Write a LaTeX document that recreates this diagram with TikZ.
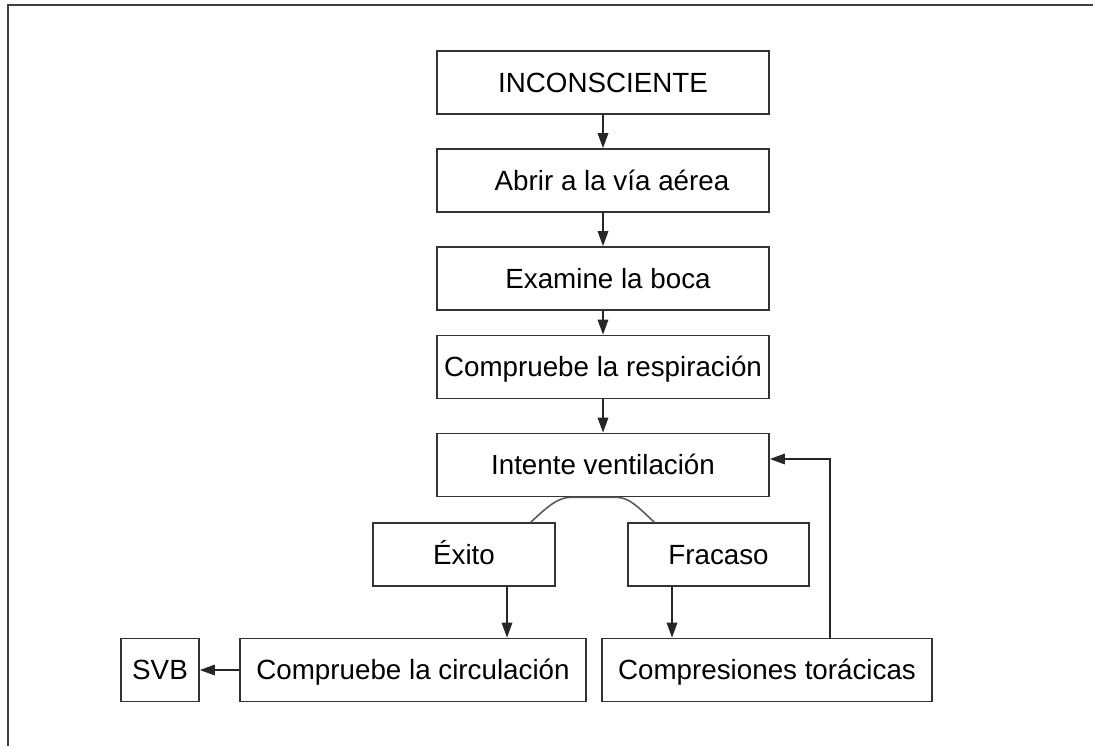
\documentclass[tikz,border=0pt]{standalone}
\usepackage{fontspec}
\setmainfont{Liberation Sans}
\usetikzlibrary{arrows.meta,positioning,calc}

\begin{document}
\begin{tikzpicture}[
    box/.style={draw=black!80,line width=1pt,rectangle,minimum height=1.26cm,inner sep=0pt,
                text height=12.5pt,text depth=1.2pt,font=\fontsize{15.8}{19}\selectfont},
    >={Triangle[width=6pt,length=8.5pt]},
    link/.style={->,line width=0.8pt,black!85}
  ]
        % Page size and frame
        \useasboundingbox (0,0) rectangle (21.86,-14.92);
        \draw[black!75,line width=1.6pt] (0.16,-14.92) -- (0.16,-0.1) -- (21.86,-0.1);

        % Main column
        \node[box,minimum width=6.64cm] (incons) at (12.06,-1.65) {INCONSCIENTE};
        \node[box,minimum width=6.64cm] (abrir) at (12.06,-3.61) {\hspace{0.36cm}Abrir a la vía aérea};
        \node[box,minimum width=6.64cm] (boca) at (12.06,-5.57) {\hspace{0.2cm}Examine la boca};
        \node[box,minimum width=6.64cm] (resp) at (12.06,-7.34) {Compruebe la respiración};
        \node[box,minimum width=6.64cm] (intente) at (12.06,-9.30) {Intente ventilación};

        % Outcomes
        \node[box,minimum width=3.64cm] (exito) at (9.28,-11.09) {Éxito};
        \node[box,minimum width=3.62cm] (fracaso) at (14.37,-11.09) {Fracaso};

        % Bottom row
        \node[box,minimum width=6.92cm] (circ) at (8.26,-13.40) {Compruebe la circulación};
        \node[box,minimum width=1.56cm] (svb) at (3.20,-13.40) {SVB};
        \node[box,minimum width=6.60cm] (compres) at (15.34,-13.40) {Compresiones torácicas};

        % Arrows
        \foreach \a/\b in {incons/abrir,abrir/boca,boca/resp,resp/intente} {
            \draw[link] (\a) -- (\b);
        }
        \draw[gray!70!black,line width=0.9pt] ([xshift=-0.5cm]exito.north east)
            .. controls +(0.3,0.28) and +(-0.25,0) .. ([xshift=-0.66cm]intente.south)
            -- ([xshift=0.28cm]intente.south)
            .. controls +(0.25,0) and +(-0.3,0.28) .. ([xshift=0.54cm]fracaso.north west);
        \draw[link] ([xshift=0.86cm]exito.south) -- ([xshift=0.86cm]exito.south |- circ.north);
        \draw[link] ([xshift=-0.93cm]fracaso.south) -- ([xshift=-0.93cm]fracaso.south |- compres.north);
        \draw[link] (circ) -- (svb);
        \draw[link] ([xshift=1.26cm]compres.north) |- ([yshift=0.12cm]intente.east);
\end{tikzpicture}
\end{document}
